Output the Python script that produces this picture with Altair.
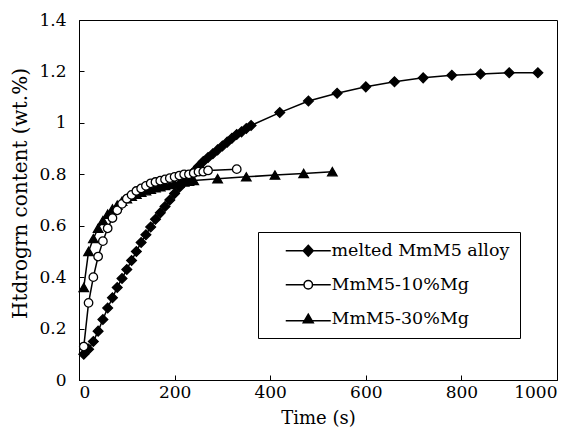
import altair as alt
import pandas as pd

series_names = ["melted MmM5 alloy", "MmM5-10%Mg", "MmM5-30%Mg"]

# melted MmM5 alloy (filled diamonds)
t_melted = [10, 20, 30, 40, 50, 60, 70, 80, 90, 100, 110, 120, 130, 140, 150, 160, 170, 180,
            190, 200, 210, 220, 230, 240, 250, 260, 270, 280, 290, 300, 310, 320, 330, 340, 350, 360,
            420, 480, 540, 600, 660, 720, 780, 840, 900, 960]
v_melted = [0.10, 0.12, 0.15, 0.19, 0.235, 0.28, 0.32, 0.36, 0.395, 0.43, 0.465, 0.50, 0.535, 0.565,
            0.595, 0.625, 0.65, 0.675, 0.70, 0.725, 0.75, 0.77, 0.79, 0.81, 0.83, 0.85, 0.865, 0.88,
            0.895, 0.91, 0.925, 0.94, 0.955, 0.965, 0.978, 0.99,
            1.04, 1.085, 1.115, 1.14, 1.16, 1.175, 1.185, 1.19, 1.195, 1.195]

# MmM5-10%Mg (open circles)
t_mg10 = [10, 20, 30, 40, 50, 60, 70, 80, 90, 100, 110, 120, 130, 140, 150, 160, 170, 180,
          190, 200, 210, 220, 230, 240, 250, 260, 270, 330]
v_mg10 = [0.13, 0.30, 0.40, 0.48, 0.54, 0.59, 0.63, 0.66, 0.685, 0.705, 0.72, 0.735, 0.745, 0.755,
          0.765, 0.77, 0.775, 0.78, 0.785, 0.79, 0.795, 0.80, 0.80, 0.805, 0.81, 0.81, 0.815, 0.82]

# MmM5-30%Mg (filled triangles)
t_mg30 = [10, 20, 30, 40, 50, 60, 70, 80, 90, 100, 110, 120, 130, 140, 150, 160, 170, 180,
          190, 200, 210, 220, 230, 240, 290, 350, 410, 470, 530]
v_mg30 = [0.36, 0.50, 0.55, 0.59, 0.62, 0.645, 0.665, 0.68, 0.695, 0.705, 0.715, 0.722, 0.73, 0.736,
          0.742, 0.748, 0.752, 0.756, 0.76, 0.764, 0.767, 0.77, 0.773, 0.776, 0.783, 0.79, 0.797,
          0.803, 0.81]

x_ticks = [0, 200, 400, 600, 800, 1000]
y_ticks = [0, 0.2, 0.4, 0.6, 0.8, 1.0, 1.2, 1.4]

FONT = "DejaVu Serif"
W, H = 478, 360

df_melted = pd.DataFrame({"t": t_melted, "v": v_melted, "s": series_names[0]})
df_mg10 = pd.DataFrame({"t": t_mg10, "v": v_mg10, "s": series_names[1]})
df_mg30 = pd.DataFrame({"t": t_mg30, "v": v_mg30, "s": series_names[2]})

x_scale = alt.Scale(domain=[0, 1000], nice=False, zero=False)
y_scale = alt.Scale(domain=[0, 1.4], nice=False)

x_main = alt.X(
    "t:Q", scale=x_scale,
    axis=alt.Axis(
        values=x_ticks, format="d", title="Time (s)", grid=False, ticks=False,
        labelPadding=4, domainColor="black", labelColor="black", labelFont=FONT,
        labelFontSize=17, titleFont=FONT, titleFontSize=18, titleFontWeight="normal",
        titleColor="black", titleX=W / 2, titleY=38, titleBaseline="middle",
    ),
)
y_main = alt.Y(
    "v:Q", scale=y_scale,
    axis=alt.Axis(
        values=y_ticks, format="~g", title="Htdrogrn content (wt.%)", grid=False, ticks=False,
        labelPadding=13, domainColor="black", labelColor="black", labelFont=FONT,
        labelFontSize=17, titleFont=FONT, titleFontSize=20, titleFontWeight="normal",
        titleColor="black", titleX=-59, titleY=173, titleAngle=-90,
        titleBaseline="middle", titleAlign="center",
    ),
)
x_plain = alt.X("t:Q", scale=x_scale, axis=None)
y_plain = alt.Y("v:Q", scale=y_scale, axis=None)

# inward tick marks: mirrored axes pulled onto the plot edges
x_ticks_in = alt.X(
    "t:Q", scale=x_scale,
    axis=alt.Axis(orient="top", offset=-H, values=x_ticks, labels=False, domain=False,
                  grid=False, ticks=True, tickSize=5, tickColor="black", title=None),
)
y_ticks_in = alt.Y(
    "v:Q", scale=y_scale,
    axis=alt.Axis(orient="right", offset=-W, values=y_ticks, labels=False, domain=False,
                  grid=False, ticks=True, tickSize=5, tickColor="black", title=None),
)


def series_layer(df, shape, fill, size):
    line = alt.Chart(df).mark_line(color="black", strokeWidth=1.5).encode(x=x_plain, y=y_plain)
    pts = alt.Chart(df).mark_point(
        shape=shape, filled=True, fill=fill, stroke="black", strokeWidth=1.3,
        size=size, opacity=1,
    ).encode(x=x_plain, y=y_plain)
    return line + pts


axis_layer = alt.Chart(df_melted).mark_line(opacity=0).encode(x=x_main, y=y_main)
tick_layer = alt.Chart(df_melted).mark_line(opacity=0).encode(x=x_ticks_in, y=y_ticks_in)

legend_paths = [
    "M1.8,0H10.8M6.3,-1.1L7.3,0L6.3,1.1L5.3,0Z",
    "M1.8,0H5.45M7.15,0H10.8M5.45,0A0.85 0.85 0 1 0 7.15,0A0.85 0.85 0 1 0 5.45,0Z",
    "M1.8,0.4H10.8M6.3,-0.9L7.3,0.8L5.3,0.8Z",
]
legend_fills = ["black", "white", "black"]
legend_strokes = ["black", "black", "black"]

leg = alt.Legend(
    title=None, orient="none", legendX=179, legendY=212, padding=10,
    rowPadding=15, labelFont=FONT, labelFontSize=17.5, labelColor="black",
    labelOffset=46, labelLimit=400, strokeColor="black", fillColor="white",
    symbolStrokeColor="black", symbolStrokeWidth=1.5, symbolSize=100,
)

legend_layer = alt.Chart(pd.concat([df_melted, df_mg10, df_mg30])).transform_filter(
    "false"
).mark_point(filled=True, size=100, strokeWidth=1.5, opacity=1).encode(
    shape=alt.Shape("s:N", scale=alt.Scale(domain=series_names, range=legend_paths), legend=leg),
    fill=alt.Fill("s:N", scale=alt.Scale(domain=series_names, range=legend_fills), legend=leg),
    stroke=alt.Stroke("s:N", scale=alt.Scale(domain=series_names, range=legend_strokes), legend=leg),
)

chart = alt.layer(
    axis_layer,
    tick_layer,
    series_layer(df_melted, "diamond", "black", 95),
    series_layer(df_mg30, "triangle-up", "black", 90),
    series_layer(df_mg10, "circle", "white", 72),
    legend_layer,
).resolve_axis(x="independent", y="independent").properties(
    width=W, height=H,
    autosize=alt.AutoSizeParams(type="none"),
    padding={"left": 71, "top": 12, "right": 15, "bottom": 48},
    background="white",
).configure(font=FONT).configure_view(stroke="black", strokeWidth=1).configure_axis(
    labelFont=FONT, titleFont=FONT
).configure_legend(labelFont=FONT)

chart.save("out.html", embed_options={"renderer": "svg", "actions": False})
